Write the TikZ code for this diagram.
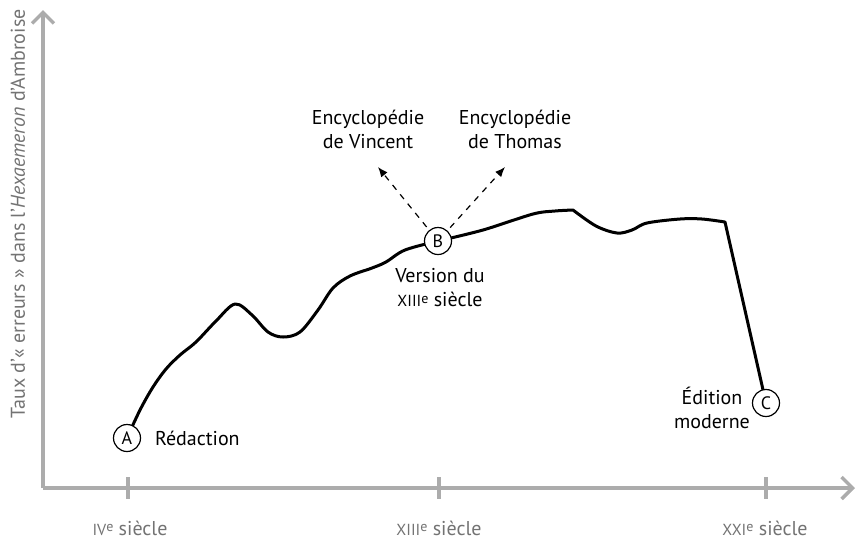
\documentclass[tikz,border=0pt]{standalone}
\usepackage{fontspec}
\setmainfont{PT Sans}
\usetikzlibrary{arrows.meta}
\newcommand{\sieclenum}[1]{{\footnotesize #1}\raisebox{0.35ex}{\scriptsize e}}
\tikzset{
  axe/.style={gray!65, line width=1.7pt},
  tick/.style={gray!65, line width=1.7pt},
  etape/.style={circle, draw, line width=0.6pt, fill=white, minimum size=13.5pt, inner sep=0pt, font=\small},
  courbe/.style={line width=1.5pt, line join=round},
  copie/.style={dashed, line width=0.6pt, -{Latex[length=5pt,width=4pt]}},
  legende/.style={align=center, font=\normalsize},
  siecle/.style={text=black!55}
}
\begin{document}
\begin{tikzpicture}[x=0.5pt,y=-0.5pt]
\useasboundingbox (0,0) rectangle (857,538);
% axes
\coordinate (O) at (43,488);
\coordinate (xmax) at (855,488);
\coordinate (ymax) at (43,10);
\draw[axe, -{Straight Barb[length=5.5pt,width=11pt]}] (O) -- (xmax);
\draw[axe, -{Straight Barb[length=5.5pt,width=11pt]}] (O) -- (ymax);
\node[siecle, rotate=90] (ylab) at (18,214) {Taux d'«~erreurs~» dans l'\textit{Hexaemeron} d'Ambroise};
% graduations
\node[siecle] (s4) at (130,528) {\sieclenum{IV} siècle};
\node[siecle] (s13) at (439,528) {\sieclenum{XIII} siècle};
\node[siecle] (s21) at (765,528) {\sieclenum{XXI} siècle};
\draw[tick] (128,477) -- (128,499);
\draw[tick] (439,477) -- (439,499);
\draw[tick] (766,477) -- (766,499);
% courbe
\coordinate (pA) at (127,438);
\coordinate (pB) at (438,241);
\coordinate (pC) at (766,403);
\draw[courbe] plot[smooth, tension=0.55] coordinates {(pA) (140,410) (153,387) (166,369) (180,355) (196,342) (216,321) (235,304) (252,315) (268,332) (283,337) (300,332) (318,310) (333,288) (350,276) (372,268) (386,262) (405,250) (438,241)}
  -- plot[smooth, tension=0.5] coordinates {(438,241) (483,230) (533,214) (555,211) (573,210)}
  -- plot[smooth, tension=0.55] coordinates {(573,210) (596,226) (617,233) (632,230) (647,223) (680,219) (702,219) (725,222)}
  -- (pC);
% etapes
\node[etape] (A) at (pA) {A};
\node[etape] (B) at (pB) {B};
\node[etape] (C) at (pC) {C};
\node[anchor=west] (redac) at (148,438) {Rédaction};
\node[legende] (vers13) at (440,288) {Version du\\\sieclenum{XIII} siècle};
\node[legende] (moderne) at (712,408) {Édition\\moderne};
% copies
\node[legende] (vincent) at (368,129) {Encyclopédie\\de Vincent};
\node[legende] (thomas) at (515,129) {Encyclopédie\\de Thomas};
\coordinate (tipV) at (378,167);
\coordinate (tipT) at (505,167);
\draw[copie, shorten <=2pt] (B) -- (tipV);
\draw[copie, shorten <=2pt] (B) -- (tipT);
\end{tikzpicture}
\end{document}
